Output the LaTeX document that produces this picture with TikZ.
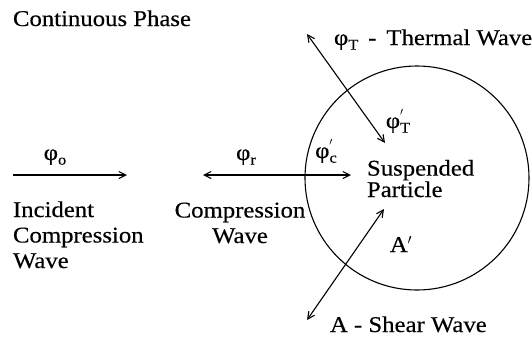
\documentclass[tikz,border=0pt]{standalone}
\usepackage{fontspec}
\setmainfont{Liberation Serif}[FakeStretch=1.1,FakeBold=0.4]
\usepackage{tikz}
\usetikzlibrary{arrows.meta}
\newcommand{\phisym}{φ}
\newcommand{\lowidx}[1]{\raisebox{-0.45ex}{\fontsize{15}{15}\selectfont #1}}
\newcommand{\primeidx}[1]{\rlap{\raisebox{0.75ex}{\fontsize{15}{15}\selectfont$'$}}\raisebox{-0.45ex}{\fontsize{15}{15}\selectfont #1}}

\begin{document}
\begin{tikzpicture}[x=1pt,y=-1pt,font=\fontsize{22.5}{25.5}\selectfont,
  lbl/.style={inner sep=0pt,outer sep=0pt},
  wave/.style={line width=1.1pt,-{Straight Barb[length=7pt,width=7pt]}},
  bothwave/.style={line width=1.1pt,{Straight Barb[length=7pt,width=7pt]}-{Straight Barb[length=7pt,width=7pt]}}]
\useasboundingbox (0,0) rectangle (532,338);
% particle
\node[draw,circle,line width=1.1pt,minimum size=224pt,inner sep=0pt] (particle) at (417,178) {};
% labels (base of a multi-line node is its last line)
\node[lbl,anchor=base west] (phase) at (13,26) {Continuous Phase};
\node[lbl,anchor=base west,align=left] (inctext) at (13,268) {Incident\\Compression\\Wave};
\node[lbl,anchor=base,align=center] (refltext) at (240,243) {Compression\\Wave};
\node[lbl,anchor=base west,align=left,font=\fontsize{22.5}{20}\selectfont] (parttext) at (367,197) {Suspended\\Particle};
\node[lbl,anchor=base] (phio) at (55,160) {\phisym\lowidx{o}};
\node[lbl,anchor=base] (phir) at (246,160) {\phisym\lowidx{r}};
\node[lbl,anchor=base] (phic) at (326,158) {\phisym\primeidx{c}};
\node[lbl,anchor=base] (phit) at (398,128) {\phisym\primeidx{T}};
\node[lbl,anchor=base west] (thermal) at (334,45) {\phisym\lowidx{T}\ \,-\ \,Thermal Wave};
\node[lbl,anchor=base] (aprime) at (401,252) {A$'$};
\node[lbl,anchor=base west] (shear) at (330,332) {A - Shear Wave};
% connectors
\coordinate (incA) at (13,175);
\coordinate (incB) at (127,175);
\coordinate (refA) at (203,175);
\coordinate (refB) at (351,175);
\coordinate (thA) at (307,34);
\coordinate (thB) at (385,143);
\coordinate (shA) at (384,209);
\coordinate (shB) at (307,320);
\draw[wave] (incA) -- (incB);
\draw[bothwave] (refA) -- (refB);
\draw[bothwave] (thA) -- (thB);
\draw[bothwave] (shA) -- (shB);
\end{tikzpicture}
\end{document}
